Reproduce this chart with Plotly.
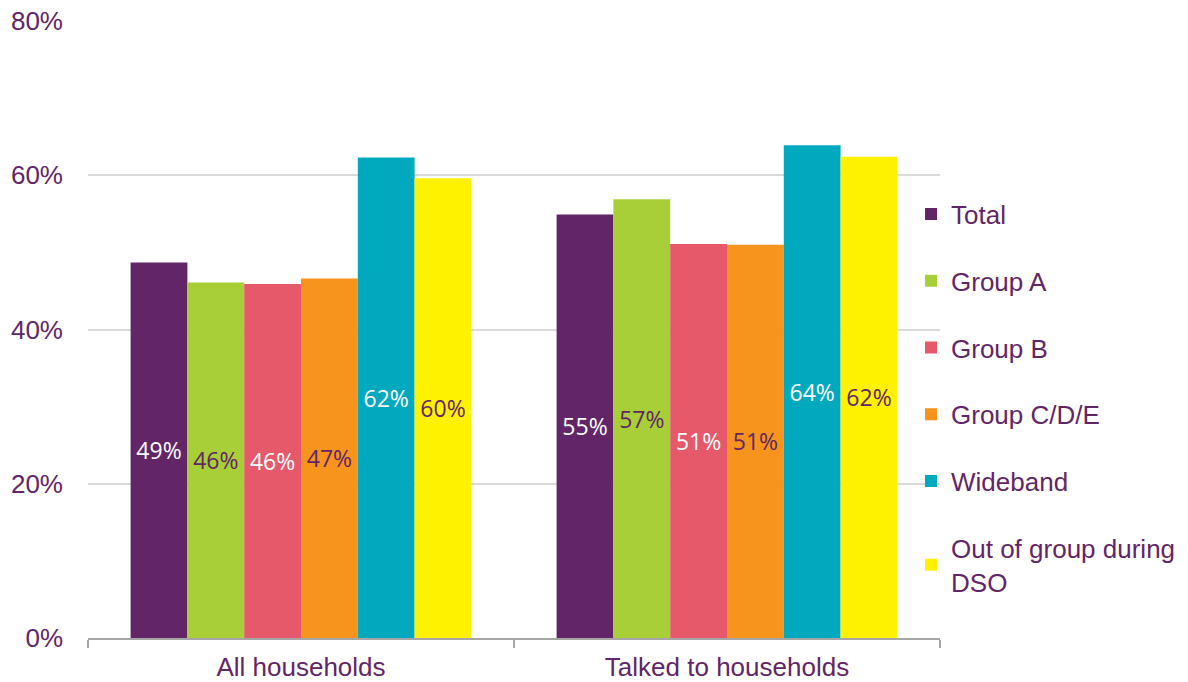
import plotly.graph_objects as go

categories = ["All households", "Talked to households"]
series_names = ["Total", "Group A", "Group B", "Group C/D/E", "Wideband", "Out of group during<br>DSO"]
total = [48.7, 54.9]
group_a = [46.1, 56.9]
group_b = [45.9, 51.1]
group_cde = [46.6, 51.0]
wideband = [62.3, 63.9]
out_of_group = [59.6, 62.4]
y_ticks = [0, 20, 40, 60, 80]
y_tick_labels = ["0%", "20%", "40%", "60%", "80%"]

values = [total, group_a, group_b, group_cde, wideband, out_of_group]
colors = ["#622567", "#A8CF38", "#E5596A", "#F7941E", "#00A9BD", "#FFF200"]
text_colors = ["#FFFFFF", "#622567", "#FFFFFF", "#622567", "#FFFFFF", "#622567"]
PURPLE = "#622567"
FONT = "Liberation Sans, Arial"

fig = go.Figure()
for i, (name, vals) in enumerate(zip(series_names, values)):
    fig.add_trace(go.Bar(
        x=categories, y=vals, name=name,
        marker=dict(color=colors[i], line=dict(width=0)),
        texttemplate="%{y:.0f}%", textposition="inside",
        insidetextanchor="middle", textangle=0,
        insidetextfont=dict(family="Open Sans", size=23, color=text_colors[i]),
        legendgroup=f"g{i}",
        hoverinfo="skip",
    ))

fig.update_layout(
    width=1188, height=682,
    margin=dict(l=88, r=248, t=21, b=44, autoexpand=False),
    plot_bgcolor="white", paper_bgcolor="white",
    barmode="group", bargap=0.2, bargroupgap=0,
    font=dict(family=FONT, size=26, color=PURPLE),
    legend=dict(
        x=0.966, xanchor="left", y=0.389, yanchor="middle",
        font=dict(family=FONT, size=26, color=PURPLE),
        tracegroupgap=30, bgcolor="rgba(0,0,0,0)",
    ),
    showlegend=True,
)
fig.update_yaxes(
    range=[0, 80], tickvals=y_ticks, ticktext=y_tick_labels,
    showgrid=True, gridcolor="#D9D9D9", gridwidth=1.5,
    zeroline=False, showline=False, ticks="",
    ticklabelstandoff=24, automargin=False,
    tickfont=dict(family=FONT, size=26, color=PURPLE),
)
fig.update_xaxes(
    showline=True, linecolor="#A6A6A6", linewidth=1.5,
    ticks="outside", tickson="boundaries", ticklen=8, tickcolor="#A6A6A6", tickwidth=1.5,
    ticklabelstandoff=5, automargin=False,
    tickfont=dict(family=FONT, size=26, color=PURPLE),
    showgrid=False,
)

fig.write_html("out.html")
